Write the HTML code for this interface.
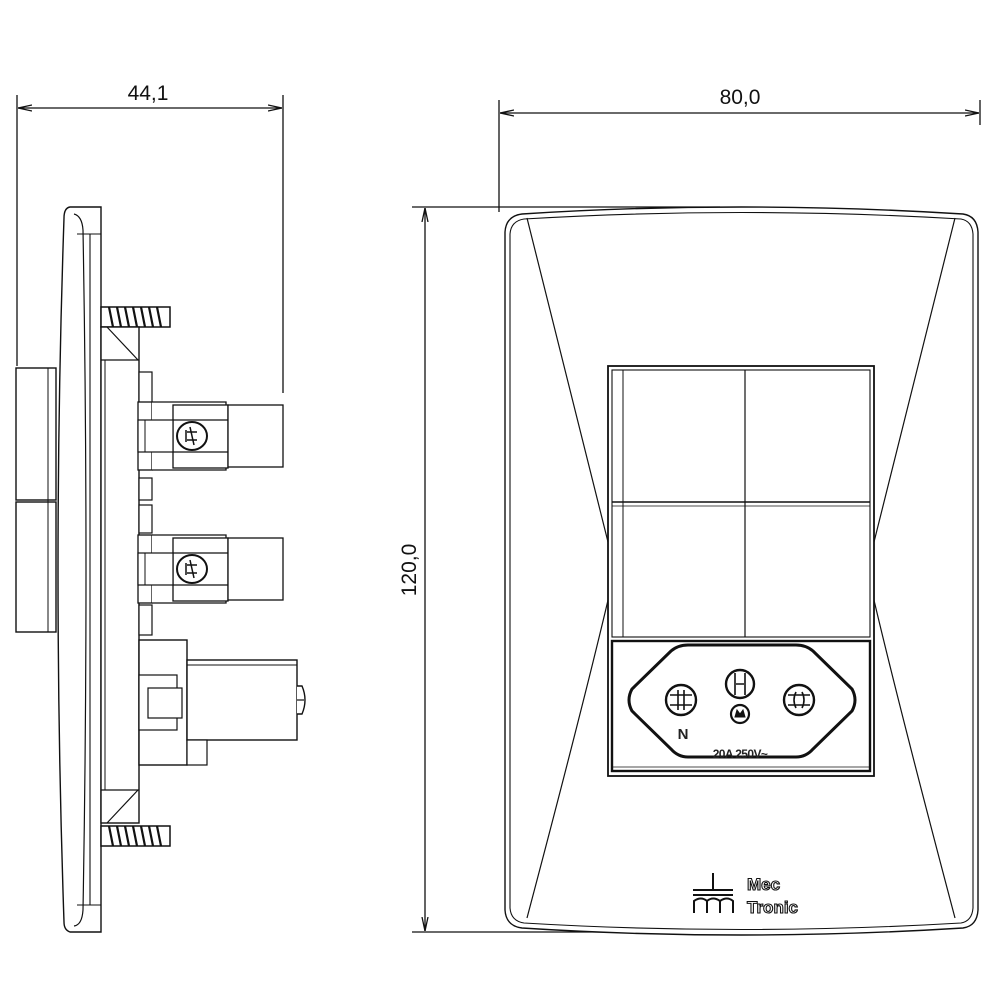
<!DOCTYPE html>
<html><head><meta charset="utf-8"><style>
html,body{margin:0;padding:0;background:#fff;}
svg{display:block;}
text{font-family:"Liberation Sans",sans-serif;}
</style></head><body>
<svg width="1000" height="1000" viewBox="0 0 1000 1000" xmlns="http://www.w3.org/2000/svg">
<defs>
<marker id="ar" markerWidth="14" markerHeight="8" refX="14" refY="4" orient="auto-start-reverse" markerUnits="userSpaceOnUse">
<path d="M0,1 L14,4 L0,7" fill="none" stroke="#111" stroke-width="1.3"/>
</marker>
<g id="screw">
<rect x="0" y="-10" width="69" height="20" fill="#fff" stroke="#111" stroke-width="1.5"/>
<path d="M8,-10 l4,20 M16,-10 l4,20 M24,-10 l4,20 M32,-10 l4,20 M40,-10 l4,20 M48,-10 l4,20 M56,-10 l4,20" stroke="#111" stroke-width="2.2"/>
</g>
<g id="term">
<rect x="138" y="-34" width="14" height="68" fill="#fff" stroke="#111" stroke-width="1.3"/>
<path d="M152,-34 H226 V34 H152" fill="#fff" stroke="#111" stroke-width="1.3"/>
<rect x="173" y="-31" width="55" height="63" fill="#fff" stroke="#111" stroke-width="1.3"/>
<line x1="173" y1="-16" x2="228" y2="-16" stroke="#111" stroke-width="1.2"/>
<line x1="173" y1="16" x2="228" y2="16" stroke="#111" stroke-width="1.2"/>
<rect x="138" y="-16" width="35" height="32" fill="#fff" stroke="#111" stroke-width="1.2"/>
<line x1="145" y1="-16" x2="145" y2="16" stroke="#111" stroke-width="1"/>
<rect x="228" y="-31" width="55" height="62" fill="#fff" stroke="#111" stroke-width="1.3"/>
<ellipse cx="192" cy="0" rx="15" ry="14" fill="#fff" stroke="#111" stroke-width="2"/>
<path d="M187,-4 h10 M187,4 h10 M190,-9 l4,18 M186,-6 v12" stroke="#111" stroke-width="1.5" fill="none"/>
</g>
</defs>

<g stroke="#111" fill="none" stroke-width="1.3">
<line x1="17" y1="95" x2="17" y2="366"/>
<line x1="283" y1="95" x2="283" y2="393"/>
<line x1="18" y1="108" x2="282" y2="108" marker-start="url(#ar)" marker-end="url(#ar)"/>
<line x1="499" y1="100" x2="499" y2="212"/>
<line x1="980" y1="100" x2="980" y2="125"/>
<line x1="500" y1="113" x2="979" y2="113" marker-start="url(#ar)" marker-end="url(#ar)"/>
<line x1="412" y1="207" x2="720" y2="207"/>
<line x1="412" y1="932" x2="730" y2="932"/>
<line x1="425" y1="208" x2="425" y2="931" marker-start="url(#ar)" marker-end="url(#ar)"/>
</g>
<text x="148" y="100" font-size="21" text-anchor="middle" fill="#111">44,1</text>
<text x="740" y="104" font-size="21" text-anchor="middle" fill="#111">80,0</text>
<text transform="translate(416,570) rotate(-90)" font-size="21" text-anchor="middle" fill="#111">120,0</text>

<g stroke="#111" fill="#fff" stroke-width="1.4">
<path d="M522,214 Q740,200 963,214 Q977,216 978,232 L978,910 Q977,926 963,928 Q740,942 522,928 Q506,926 505,910 L505,232 Q506,216 522,214 Z"/>
<path d="M524,219 Q740,206 961,219 Q972,221 973,234 L973,908 Q972,921 961,923 Q740,936 524,923 Q511,921 510,908 L510,234 Q511,221 524,219 Z" stroke-width="1.1"/>
<path d="M527,218 Q590,470 615,570 Q590,680 527,918" fill="none" stroke-width="1.2"/>
<path d="M955,218 Q892,470 867,570 Q892,680 955,918" fill="none" stroke-width="1.2"/>
<rect x="608" y="366" width="266" height="410" stroke-width="1.8"/>
<rect x="612" y="370" width="258" height="267" stroke-width="1.1"/>
<line x1="623" y1="370" x2="623" y2="637" stroke-width="1"/>
<line x1="745" y1="370" x2="745" y2="637" stroke-width="1.2"/>
<line x1="612" y1="502" x2="870" y2="502" stroke-width="1.4"/>
<line x1="612" y1="506" x2="870" y2="506" stroke-width="0.8"/>
<rect x="612" y="641" width="258" height="130" stroke-width="2.4"/>
<line x1="612" y1="767" x2="870" y2="767" stroke-width="0.8"/>
<path d="M688,645 L796,645 Q806,645 813,651 L852,689 Q858,700 852,711 L813,749 Q806,757 796,757 L688,757 Q678,757 671,749 L632,711 Q626,700 632,689 L671,651 Q678,645 688,645 Z" stroke-width="3"/>
<circle cx="681" cy="700" r="15" stroke-width="2.4"/>
<path d="M670,695 h22 M670,705 h22 M678,690 v20 M684,690 v20" stroke-width="1.6" fill="none"/>
<circle cx="799" cy="700" r="15" stroke-width="2.4"/>
<path d="M788,695 h22 M788,705 h22 M796,692 q-4,8 0,16 M802,692 q4,8 0,16" stroke-width="1.6" fill="none"/>
<circle cx="740" cy="684" r="14" stroke-width="2.4"/>
<path d="M735,673 v22 M745,673 v22 M736,684 h8" stroke-width="1.6" fill="none"/>
<circle cx="740" cy="714" r="9" stroke-width="2.2"/>
<path d="M735,717 l2,-7 l3,4 l3,-4 l2,7 z" fill="#111" stroke-width="1"/>
</g>
<text x="683" y="739" font-size="15" font-weight="bold" text-anchor="middle" fill="#222">N</text>
<text x="740" y="758" font-size="12" font-weight="bold" text-anchor="middle" fill="#222" letter-spacing="-0.6">20A 250V~</text>
<g stroke="#111" fill="none" stroke-width="2">
<path d="M693,890 h40 M713,873 v17 M693,895 h40"/>
<path d="M694,913 v-12 q7,-5 13,0 v12 M707,901 q6,-5 13,0 v12 M720,901 q7,-5 13,0 v12"/>
</g>
<text x="747" y="890" font-size="17" font-weight="bold" fill="#fff" stroke="#111" stroke-width="1.1">Mec</text>
<text x="747" y="913" font-size="17" font-weight="bold" fill="#fff" stroke="#111" stroke-width="1.1">Tronic</text>

<g stroke="#111" fill="#fff" stroke-width="1.4">
<rect x="16" y="368" width="40" height="132"/>
<rect x="16" y="502" width="40" height="130"/>
<line x1="48" y1="368" x2="48" y2="632" stroke-width="1"/>
<path d="M70,207 L101,207 L101,932 L70,932 Q64,930 64,922 Q52,570 64,218 Q64,208 70,207 Z"/>
<path d="M74,214 Q82,216 83,230 Q89,570 83,910 Q82,925 74,926" fill="none" stroke-width="1.2"/>
<line x1="90" y1="234" x2="90" y2="905" stroke-width="1.1"/>
<line x1="77" y1="234" x2="101" y2="234" stroke-width="1.1"/>
<line x1="77" y1="905" x2="101" y2="905" stroke-width="1.1"/>
<use href="#screw" x="101" y="317"/>
<use href="#screw" x="101" y="836"/>
<rect x="101" y="327" width="38" height="496"/>
<line x1="107" y1="327" x2="138" y2="360" stroke-width="1.2"/>
<line x1="101" y1="360" x2="139" y2="360" stroke-width="1.2"/>
<line x1="107" y1="823" x2="138" y2="790" stroke-width="1.2"/>
<line x1="101" y1="790" x2="139" y2="790" stroke-width="1.2"/>
<line x1="105" y1="360" x2="105" y2="790" stroke-width="1"/>
<rect x="139" y="372" width="13" height="31" stroke-width="1.2"/>
<rect x="139" y="478" width="13" height="22" stroke-width="1.2"/>
<rect x="139" y="505" width="13" height="28" stroke-width="1.2"/>
<rect x="139" y="605" width="13" height="30" stroke-width="1.2"/>
<rect x="139" y="640" width="48" height="125"/>
<rect x="187" y="660" width="110" height="80"/>
<line x1="187" y1="665" x2="297" y2="665" stroke-width="1"/>
<rect x="139" y="675" width="38" height="55" stroke-width="1.2"/>
<rect x="148" y="688" width="34" height="30" stroke-width="1.2"/>
<rect x="187" y="740" width="20" height="25" stroke-width="1.2"/>
<path d="M297,686 h5 q6,14 0,28 h-5" stroke-width="1.4"/>
<line x1="297" y1="700" x2="304" y2="700" stroke-width="1.2"/>
</g>
<use href="#term" x="0" y="436"/>
<use href="#term" x="0" y="569"/>
</svg>
</body></html>
